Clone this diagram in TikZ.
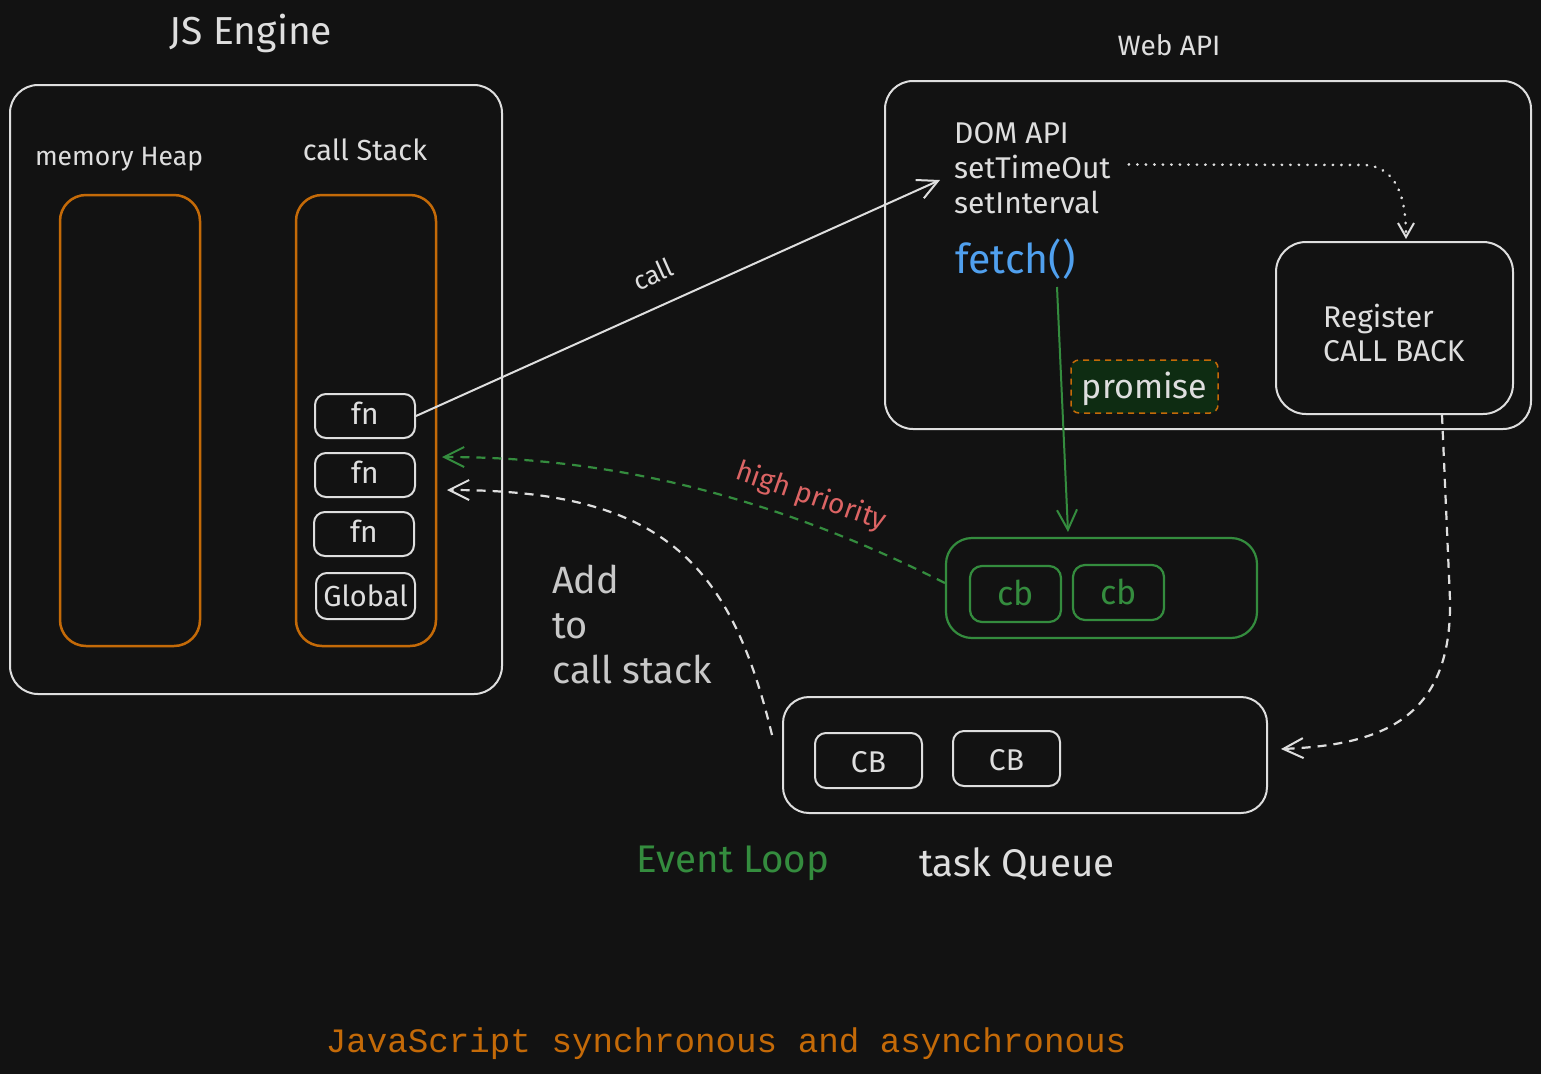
\documentclass[tikz,border=0pt]{standalone}
\usepackage{fontspec}
\setmainfont{Fira Sans}
\newfontfamily\monofont{Liberation Mono}
\usetikzlibrary{arrows.meta}
\definecolor{bg}{RGB}{18,18,18}
\definecolor{fg}{RGB}{222,222,222}
\definecolor{fgdim}{RGB}{200,200,200}
\definecolor{orng}{RGB}{196,106,8}
\definecolor{grn}{RGB}{52,140,62}
\definecolor{blu}{RGB}{80,160,238}
\definecolor{rd}{RGB}{220,100,100}
\definecolor{pfill}{RGB}{14,44,18}
\tikzset{
  lbl/.style={text=fg,inner sep=0pt,font=\fontsize{#1}{#1}\selectfont},
  bigbox/.style={draw=fg,line width=2pt,rounded corners=28pt,inner sep=0pt},
  orbox/.style={draw=orng,line width=2.5pt,rounded corners=26pt,inner sep=0pt,minimum width=140pt,minimum height=451pt},
  smallbox/.style={draw=fg,line width=2pt,rounded corners=11pt,inner sep=0pt},
  gbox/.style={draw=grn,line width=2.2pt,rounded corners=12pt,inner sep=0pt},
  barb/.style={-{Straight Barb[length=20pt,width=20pt,line width=2pt]}},
  dashln/.style={line width=2.2pt,dash pattern=on 9pt off 7pt},
  dotln/.style={line width=2.6pt,dash pattern=on 0.5pt off 8pt,line cap=round}
}
\begin{document}
\begin{tikzpicture}[x=1pt,y=-1pt]
\useasboundingbox (0,0) rectangle (1541,1074);
\fill[bg] (0,0) rectangle (1541,1074);

% JS Engine
\node[lbl=39,anchor=base] (jstitle) at (251,44) {JS Engine};
\node[bigbox,minimum width=492pt,minimum height=609pt] (engine) at (256,389.5) {};
\node[lbl=26.5,anchor=base] (heaplbl) at (119,165) {memory Heap};
\node[lbl=29,anchor=base] (stacklbl) at (365,160) {call Stack};
\node[orbox] (heap) at (130,420.5) {};
\node[orbox] (stack) at (366,420.5) {};
\node[smallbox,minimum width=100pt,minimum height=44pt] (fn1) at (365,416) {};
\node[smallbox,minimum width=100pt,minimum height=44pt] (fn2) at (365,475) {};
\node[smallbox,minimum width=100pt,minimum height=44pt] (fn3) at (364,534) {};
\node[smallbox,minimum width=99pt,minimum height=46pt] (glob) at (365.5,596) {};
\node[lbl=30,anchor=base] (fn1t) at (365,424) {fn};
\node[lbl=30,anchor=base] (fn2t) at (365,483) {fn};
\node[lbl=30,anchor=base] (fn3t) at (364,542) {fn};
\node[lbl=29,anchor=base] (globt) at (365.5,606) {Global};

% Web API
\node[lbl=28,anchor=base] (webtitle) at (1169,55) {Web API};
\node[bigbox,minimum width=646pt,minimum height=348pt] (web) at (1208,255) {};
\node[lbl=30,anchor=base west] (dom) at (954,143) {DOM API};
\node[lbl=30,anchor=base west] (sto) at (954,178) {setTimeOut};
\node[lbl=30,anchor=base west] (sti) at (954,213) {setInterval};
\node[lbl=41,anchor=base west,text=blu] (fetch) at (955,273) {fetch()};
\node[bigbox,minimum width=237pt,minimum height=172pt,rounded corners=30pt] (reg) at (1394.5,328) {};
\node[lbl=30,anchor=base west] (regt1) at (1323,327) {Register};
\node[lbl=30,anchor=base west] (regt2) at (1323,361) {CALL BACK};

% green arrow from fetch (drawn before promise box)
\coordinate (fa) at (1057,287);
\coordinate (fb) at (1068,532);
\draw[grn,line width=2pt,barb] (fa) -- (fb);
\node[fill=pfill,draw=orng,line width=1.5pt,dash pattern=on 6pt off 5pt,rounded corners=8pt,minimum width=147pt,minimum height=53pt,inner sep=0pt] (prom) at (1144.5,386.5) {};
\node[lbl=34,anchor=base] (promt) at (1144.5,398) {promise};

% microtask queue
\node[gbox,rounded corners=26pt,minimum width=311pt,minimum height=100pt] (micro) at (1101.5,588) {};
\node[gbox,minimum width=91pt,minimum height=56pt] (cb1) at (1015.5,594) {};
\node[gbox,minimum width=91pt,minimum height=55pt] (cb2) at (1118.5,592.5) {};
\node[lbl=34,anchor=base,text=grn] (cb1t) at (1015.5,605) {cb};
\node[lbl=34,anchor=base,text=grn] (cb2t) at (1118.5,604) {cb};

% task queue
\node[bigbox,rounded corners=26pt,minimum width=484pt,minimum height=116pt] (task) at (1025,755) {};
\node[smallbox,minimum width=107pt,minimum height=55pt] (CB1) at (868.5,760.5) {};
\node[smallbox,minimum width=107pt,minimum height=55pt] (CB2) at (1006.5,758.5) {};
\node[lbl=30,anchor=base] (CB1t) at (868.5,772) {CB};
\node[lbl=30,anchor=base] (CB2t) at (1006.5,770) {CB};

% labels
\node[lbl=38,anchor=base west,text=fgdim] (add1) at (552,593) {Add};
\node[lbl=38,anchor=base west,text=fgdim] (add2) at (552,638) {to};
\node[lbl=38,anchor=base west,text=fgdim] (add3) at (552,683) {call stack};
\node[lbl=38.5,anchor=base,text=grn] (evloop) at (733,872) {Event Loop};
\node[lbl=38.5,anchor=base] (tqlbl) at (1017,876) {task Queue};
\node[lbl=34,anchor=base,text=orng,font=\monofont\fontsize{34.2}{34}\selectfont] (title) at (726,1052) {JavaScript synchronous and asynchronous};

% call arrow
\coordinate (callend) at (940,180);
\draw[fg,line width=2pt,barb] (fn1.east) -- (callend);
\node[lbl=26,rotate=24] (calllbl) at (653,274) {call};

% setTimeOut dotted arrow
\draw[fg,dotln,-{Straight Barb[length=14pt,width=16pt,line width=2pt]}] ([xshift=18pt,yshift=2pt]sto.east) -- (1366,165) .. controls (1398,168) and (1406,200) .. ([xshift=11.5pt,yshift=2pt]reg.north);

% register -> task queue
\draw[fg,dashln,barb] ([xshift=47.5pt]reg.south) -- (1450,600) .. controls (1452,720) and (1380,745) .. ([xshift=13pt,yshift=6pt]task.east);

% high priority
\coordinate (hpend) at (442,457);
\draw[grn,dashln,barb] ([yshift=5pt]micro.west) .. controls (780,500) and (620,457) .. (hpend);
\node[lbl=28,text=rd,rotate=-19] (hplbl) at (811,497) {high priority};

% add to call stack
\coordinate (acstart) at (772,735);
\coordinate (acend) at (447,490);
\draw[fg,dashln,barb] (acstart) .. controls (730,560) and (660,490) .. (acend);
\end{tikzpicture}
\end{document}
